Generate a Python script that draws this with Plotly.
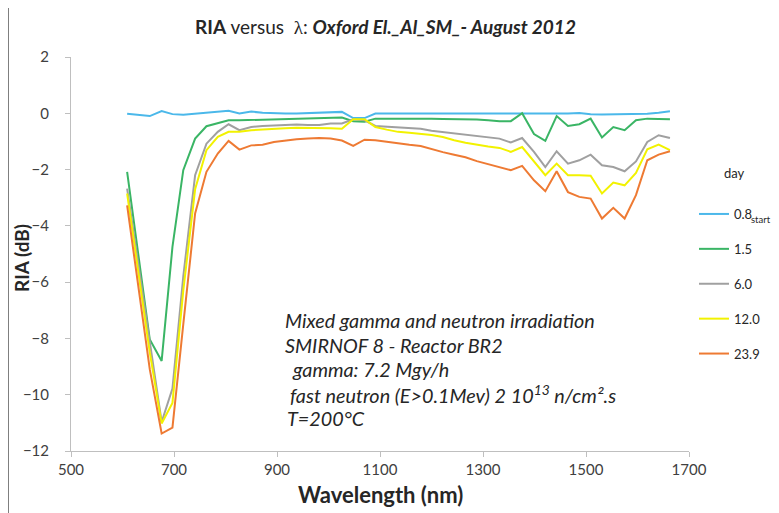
import plotly.graph_objects as go

wavelength = [609, 631, 653, 676, 697, 718, 741, 763, 785, 806, 827, 850, 872, 894, 916, 938, 960, 982,
              1004, 1026, 1048, 1070, 1091, 1113, 1135, 1157, 1179, 1200, 1222, 1244, 1266, 1288, 1310,
              1332, 1354, 1376, 1399, 1421, 1443, 1465, 1487, 1509, 1531, 1553, 1575, 1597, 1619, 1641, 1663]

day_0_8 = [-0.02, -0.06, -0.1, 0.08, -0.03, -0.05, -0.02, 0.02, 0.05, 0.09, -0.01, 0.06, 0.02, 0.0, -0.01,
           -0.01, 0.0, 0.02, 0.03, 0.05, -0.17, -0.17, -0.01, -0.01, -0.01, -0.01, -0.01, -0.01, -0.01,
           -0.01, -0.01, -0.01, -0.01, -0.01, -0.01, -0.01, -0.01, -0.02, -0.01, -0.01, 0.01, -0.03,
           -0.04, -0.04, -0.04, -0.03, -0.02, 0.02, 0.07]
day_1_5 = [-2.08, -5.1, -8.04, -8.8, -4.75, -2.02, -0.9, -0.46, -0.35, -0.25, -0.25, -0.24, -0.23, -0.22,
           -0.21, -0.2, -0.18, -0.16, -0.15, -0.15, -0.28, -0.3, -0.19, -0.19, -0.19, -0.18, -0.17, -0.19,
           -0.2, -0.21, -0.2, -0.22, -0.25, -0.28, -0.28, 0.0, -0.74, -0.98, -0.1, -0.45, -0.39, -0.19,
           -0.86, -0.49, -0.6, -0.25, -0.19, -0.21, -0.21]
day_6_0 = [-2.68, -5.4, -8.2, -10.97, -9.78, -5.8, -2.2, -1.08, -0.66, -0.39, -0.6, -0.49, -0.45, -0.44,
           -0.42, -0.4, -0.42, -0.42, -0.36, -0.36, -0.21, -0.25, -0.45, -0.47, -0.49, -0.52, -0.55, -0.62,
           -0.67, -0.72, -0.77, -0.82, -0.86, -0.9, -1.04, -0.88, -1.37, -1.91, -1.35, -1.79, -1.67, -1.47,
           -1.85, -1.91, -2.06, -1.71, -1.02, -0.78, -0.88]
day_12_0 = [-2.85, -5.7, -8.5, -11.02, -10.29, -6.3, -2.7, -1.31, -0.84, -0.66, -0.66, -0.6, -0.57, -0.55,
            -0.53, -0.51, -0.51, -0.51, -0.53, -0.55, -0.21, -0.21, -0.49, -0.58, -0.66, -0.69, -0.72,
            -0.77, -0.84, -0.96, -1.05, -1.12, -1.18, -1.23, -1.37, -1.2, -1.73, -2.2, -1.79, -2.2, -2.2,
            -2.22, -2.85, -2.46, -2.56, -2.12, -1.28, -1.11, -1.31]
day_23_9 = [-3.27, -6.2, -9.1, -11.38, -11.17, -7.5, -3.56, -2.08, -1.43, -0.98, -1.29, -1.14, -1.12, -1.02,
            -0.97, -0.92, -0.9, -0.88, -0.9, -0.97, -1.16, -0.94, -0.96, -1.02, -1.08, -1.12, -1.16, -1.28,
            -1.38, -1.47, -1.56, -1.7, -1.8, -1.91, -2.02, -1.87, -2.38, -2.77, -2.06, -2.8, -2.97, -3.03,
            -3.74, -3.36, -3.74, -2.91, -1.67, -1.47, -1.35]

series_names = ["0.8", "1.5", "6.0", "12.0", "23.9"]
first_series_subscript = "start"
series_values = [day_0_8, day_1_5, day_6_0, day_12_0, day_23_9]
series_colors = ["#4BB8EA", "#3AB565", "#A0A0A0", "#F2F200", "#EE7A33"]

x_ticks = [500, 700, 900, 1100, 1300, 1500, 1700]
y_ticks = [2, 0, -2, -4, -6, -8, -10, -12]

note_lines = [
    "Mixed gamma and neutron irradiation",
    "SMIRNOF 8 - Reactor BR2",
    "gamma: 7.2 Mgy/h",
    "fast neutron (E>0.1Mev) 2 10<sup>13</sup> n/cm².s",
    "T=200°C",
]

FONT = "Lato, 'Open Sans', sans-serif"
W, H = 779, 513
ML, MR, MT, MB = 63, 98, 49, 70
PW, PH = W - ML - MR, H - MT - MB


def px(x):
    return (x - ML) / PW


def py(y):
    return 1 - (y - MT) / PH


fig = go.Figure()
for i, (name, vals, col) in enumerate(zip(series_names, series_values, series_colors)):
    fig.add_trace(go.Scatter(x=wavelength, y=vals, mode="lines", name=name,
                             legendgroup=str(i),
                             line=dict(color=col, width=2)))

fig.update_layout(
    width=W, height=H,
    margin=dict(l=ML, r=MR, t=MT, b=MB),
    paper_bgcolor="white", plot_bgcolor="white",
    font=dict(family=FONT, color="#404040", size=14),
    title=dict(
        text="<b>RIA</b> versus  <span style='font-family:serif'>λ</span>: <b><i>Oxford El._Al_SM_- August 2012</i></b>",
        x=377.5 / W, xref="container", xanchor="center", y=1 - 19 / H, yref="container", yanchor="middle",
        font=dict(family=FONT, size=19, color="#262626")),
    xaxis=dict(range=[500, 1700], tickvals=x_ticks, showgrid=False, zeroline=False,
               showline=True, linecolor="#BFBFBF", linewidth=1,
               ticks="outside", ticklen=5, tickcolor="#BFBFBF",
               tickfont=dict(size=15, color="#404040"), automargin=False),
    yaxis=dict(range=[-12, 2], tickvals=y_ticks, showgrid=False, zeroline=False,
               showline=True, linecolor="#BFBFBF", linewidth=1,
               ticks="outside", ticklen=5, tickcolor="#BFBFBF", ticklabelstandoff=13,
               tickfont=dict(size=15, color="#404040"), automargin=False),
    legend=dict(x=px(686), y=py(191), xanchor="left", yanchor="top",
                font=dict(size=13, color="#262626"),
                tracegroupgap=15, bgcolor="rgba(0,0,0,0)"),
)

# axis titles
fig.add_annotation(text="<b>Wavelength (nm)</b>", xref="paper", yref="paper",
                   x=px(372), y=py(487), xanchor="center", yanchor="middle", showarrow=False,
                   font=dict(family=FONT, size=22, color="#262626"))
fig.add_annotation(text="<b>RIA (dB)</b>", xref="paper", yref="paper", textangle=-90,
                   x=px(13), y=py(250), xanchor="center", yanchor="middle", showarrow=False,
                   font=dict(family=FONT, size=19, color="#262626"))
# legend title and subscript of first entry
fig.add_annotation(text="day", xref="paper", yref="paper",
                   x=px(727), y=py(165), xanchor="center", yanchor="middle", showarrow=False,
                   font=dict(family=FONT, size=13, color="#262626"))
fig.add_annotation(text=first_series_subscript, xref="paper", yref="paper",
                   x=px(741), y=py(211), xanchor="left", yanchor="middle", showarrow=False,
                   font=dict(family=FONT, size=9.5, color="#262626"))

note_x = [275, 275, 282, 280, 277]
note_y = [312, 337, 361, 386, 410]
for txt, xx, yy in zip(note_lines, note_x, note_y):
    fig.add_annotation(text=f"<i>{txt}</i>", xref="paper", yref="paper",
                       x=px(xx), y=py(yy),
                       xanchor="left", yanchor="middle", showarrow=False,
                       font=dict(family=FONT, size=19.8, color="#262626"))

fig.add_shape(type="line", xref="paper", yref="paper",
              x0=px(0.5), x1=px(0.5), y0=-0.3, y1=1.3,
              line=dict(color="#7F7F7F", width=1))

fig.write_html("out.html")
